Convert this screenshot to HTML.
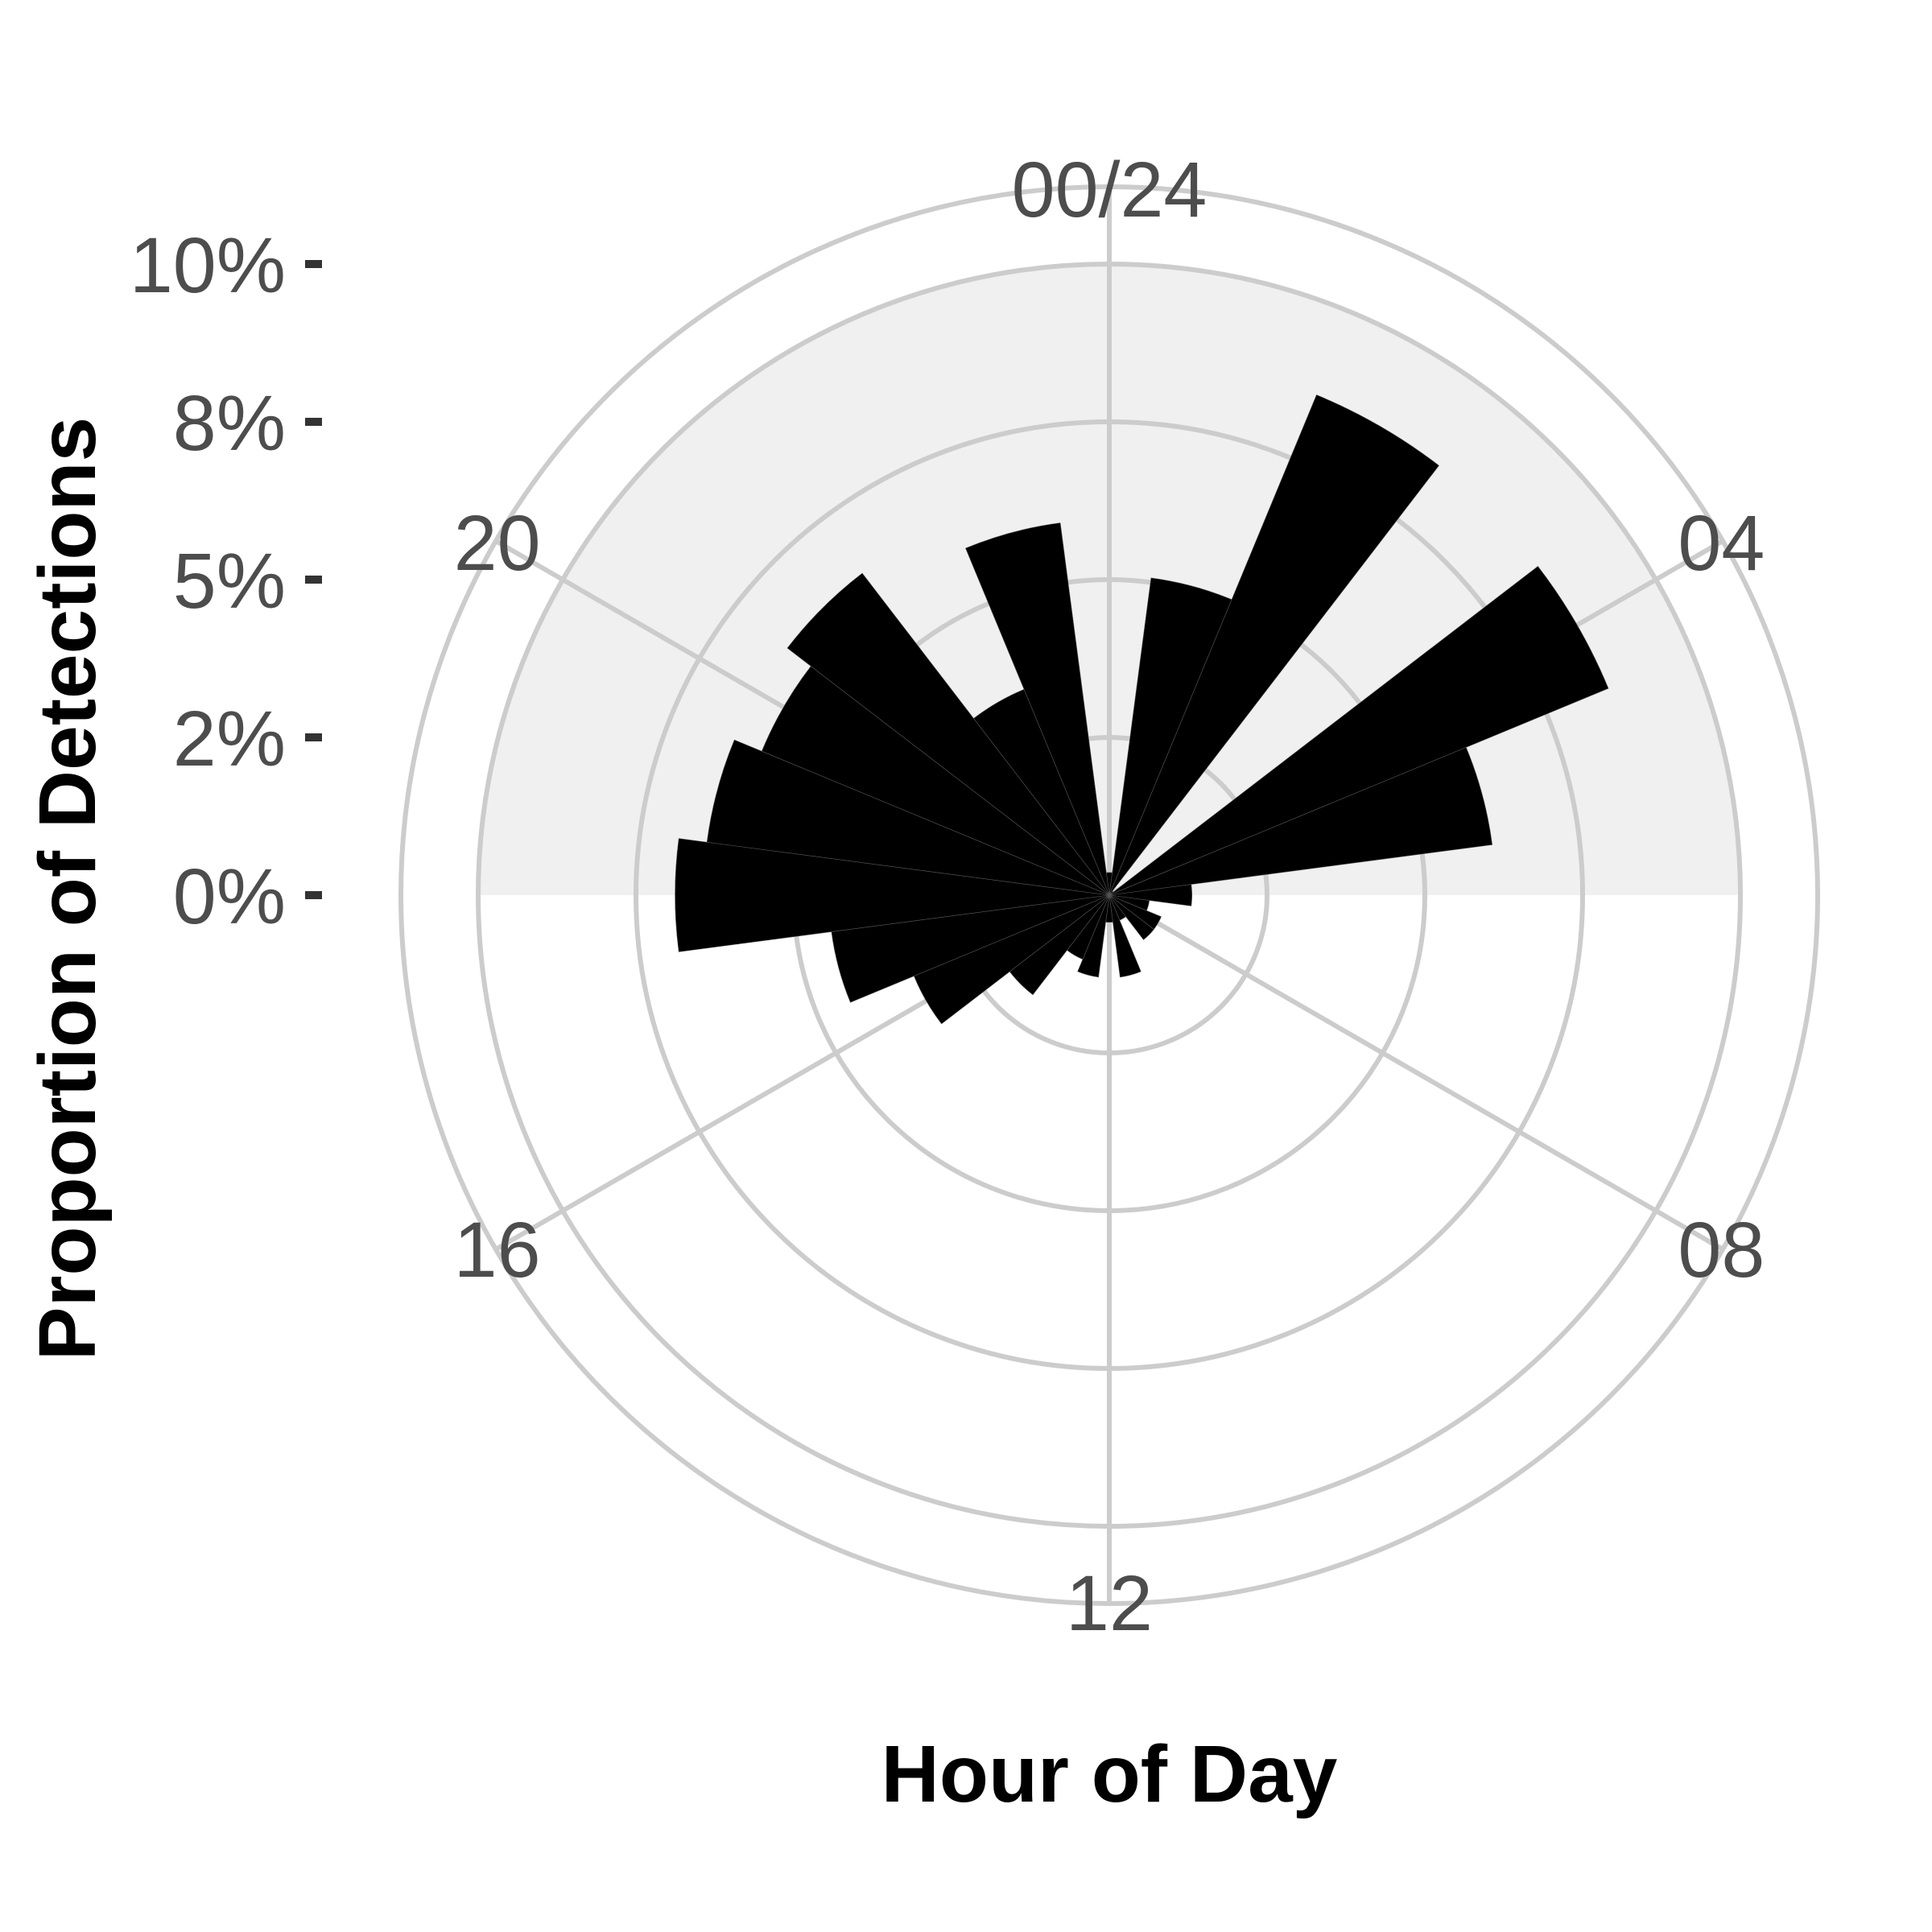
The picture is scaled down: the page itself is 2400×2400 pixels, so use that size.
<!DOCTYPE html>
<html><head><meta charset="utf-8"><style>
html,body{margin:0;padding:0;background:#fff;}
svg{display:block;}
text{font-family:"Liberation Sans",Arial,sans-serif;}
</style></head><body>
<svg id="chart" width="2400" height="2400" viewBox="0 0 2400 2400" xmlns="http://www.w3.org/2000/svg">
<g id="grid"></g>
<g id="bars"></g>
<g id="labels"></g>
<text x="1378" y="2238" font-size="100" font-weight="bold" text-anchor="middle" fill="#000">Hour of Day</text>
<text transform="translate(118,1104) rotate(-90)" font-size="100" font-weight="bold" text-anchor="middle" fill="#000">Proportion of Detections</text>
</svg>
<script>
const hours = [0,1,2,3,4,5,6,7,8,9,10,11,12,13,14,15,16,17,18,19,20,21,22,23];
const values = [0.36,5.07,8.58,0.08,8.56,6.12,1.31,0.64,0.89,0.89,0.43,1.31,0.43,1.31,1.1,1.99,3.35,4.44,6.88,6.43,5.96,6.43,3.53,5.95];
const yTicks = [0,2.5,5,7.5,10];
const yTickLabels = ["0%","2%","5%","8%","10%"];
const xTicks = [0,4,8,12,16,20];
const xTickLabels = ["00/24","04","08","12","16","20"];

const NS = "http://www.w3.org/2000/svg";
const CX = 1378, CY = 1112, PX_PER = 78.4, OUTER = 880;
function rScale(v){ return v * PX_PER; }
function aScale(h){ return h / 24 * 2 * Math.PI; }
function pt(h, r){ const a = aScale(h); return [CX + r*Math.sin(a), CY - r*Math.cos(a)]; }
function mk(tag, attrs, parent){ const e = document.createElementNS(NS, tag); for (const k in attrs) e.setAttribute(k, attrs[k]); parent.appendChild(e); return e; }

const grid = document.getElementById('grid');
const bars = document.getElementById('bars');
const labels = document.getElementById('labels');

const rs = rScale(10);
const shade = mk('path', {d:`M${CX-rs},${CY} A${rs},${rs} 0 0 1 ${CX+rs},${CY} Z`, fill:'#f0f0f0'}, grid);



yTicks.slice(1).forEach(v => {
  const c = mk('circle', {cx:CX, cy:CY, r:rScale(v), fill:'none', stroke:'#cccccc', 'stroke-width':6}, grid);
  
  
});
const oc = mk('circle', {cx:CX, cy:CY, r:OUTER, fill:'none', stroke:'#cccccc', 'stroke-width':6}, grid);


xTicks.forEach(h => {
  const p = pt(h, OUTER);
  const l = mk('line', {x1:CX, y1:CY, x2:p[0], y2:p[1], stroke:'#cccccc', 'stroke-width':6}, grid);
  
  
});

hours.forEach((h, i) => {
  const r = rScale(values[i]);
  const p1 = pt(h - 0.5, r), p2 = pt(h + 0.5, r);
  const d = `M${CX},${CY} L${p1[0]},${p1[1]} A${r},${r} 0 0 1 ${p2[0]},${p2[1]} Z`;
  const b = mk('path', {d:d, fill:'#000', stroke:'#555', 'stroke-width':0.6}, bars);
  
  
});

yTicks.forEach((v, i) => {
  const y = CY - rScale(v);
  const t = mk('text', {x:355, y:y+35, 'font-size':97, 'text-anchor':'end', fill:'#4d4d4d'}, labels);
  t.textContent = yTickLabels[i];
  
  
  const tk = mk('rect', {x:379, y:y-5, width:21, height:10, fill:'#333'}, labels);
  
  
});

xTicks.forEach((h, i) => {
  const p = pt(h, 878);
  const t = mk('text', {x:p[0], y:p[1]+35, 'font-size':97, 'text-anchor':'middle', fill:'#4d4d4d'}, labels);
  t.textContent = xTickLabels[i];
  
  
});
</script>
</body></html>
